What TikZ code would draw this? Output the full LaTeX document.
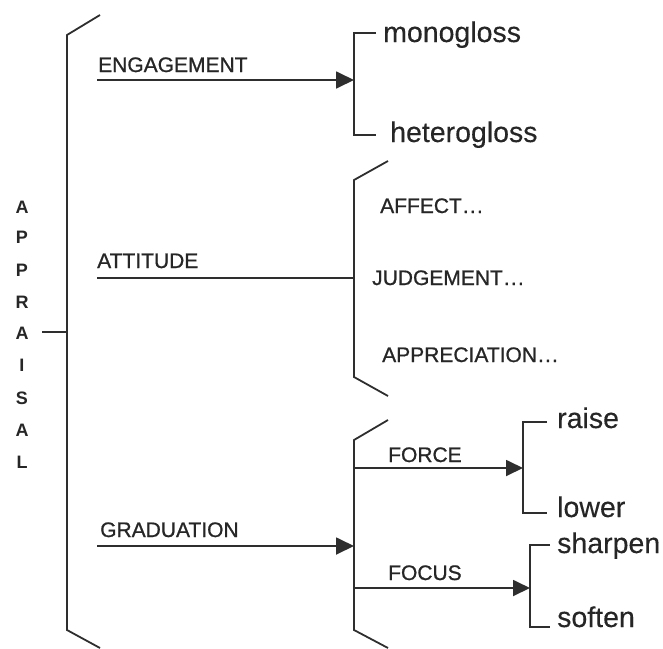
\documentclass[tikz,border=0pt]{standalone}
\usepackage{fontspec}
\setmainfont{Liberation Sans}
\newfontfamily\capsfont[FakeBold=0.9]{Liberation Sans}
\newfontfamily\lowfont[FakeBold=0.3]{Liberation Sans}
\usetikzlibrary{arrows.meta}
\newcommand{\mydots}{\kern1pt.\kern1.2pt.\kern1.2pt.}
\begin{document}
\begin{tikzpicture}[x=1pt,y=-1pt,
  ln/.style={line width=1.8pt, draw=black!82, line join=miter},
  arr/.style={ln, -{Triangle[length=18pt,width=17pt]}},
  sarr/.style={ln, -{Triangle[length=17pt,width=16pt]}},
  ucl/.style={anchor=base west, inner sep=0pt, font=\capsfont\fontsize{21}{24}\selectfont, text=black!85},
  lcl/.style={anchor=base west, inner sep=0pt, font=\lowfont\fontsize{28.5}{32}\selectfont, text=black!85},
  letter/.style={anchor=base, inner sep=0pt, font=\bfseries\fontsize{18}{20}\selectfont, text=black!85}]
\useasboundingbox (0,0) rectangle (663,648);

% APPRAISAL column
\foreach \l/\yy [count=\i] in {A/213, P/243.5, P/276.5, R/308.5, A/339.5, I/371.5, S/404, A/436.5, L/468.5}
  \node[letter] (ap\i) at (22,\yy) {\l};

% main bracket
\coordinate (mtop) at (67,35);
\coordinate (mbot) at (67,630);
\draw[ln] (100,15) -- (mtop) -- (mbot) -- (100,648);
\coordinate (apptick) at (42,332);
\coordinate (appjoin) at (67,332);
\draw[ln] (apptick) -- (appjoin);

% system entry points
\coordinate (engS) at (97,80);   \coordinate (engE) at (354,80);
\coordinate (attS) at (97,278);  \coordinate (attE) at (354,278);
\coordinate (graS) at (97,546);  \coordinate (graE) at (354,546);
\draw[arr] (engS) -- (engE);
\draw[ln]  (attS) -- (attE);
\draw[arr] (graS) -- (graE);

\node[ucl] (engL) at (98,72)  {ENGAGEMENT};
\node[ucl] (attL) at (97,268) {ATTITUDE};
\node[ucl] (graL) at (100,537) {GRADUATION};

% engagement bracket
\draw[ln] (376,33) -- (354,33) -- (354,135) -- (376,135);
\node[lcl] (mono)   at (383,42)  {monogloss};
\node[lcl] (hetero) at (390,142) {heterogloss};

% attitude bracket
\draw[ln] (388,161) -- (354,180) -- (354,377) -- (388,396);
\node[ucl] (aff) at (380,213) {AFFECT\mydots};
\node[ucl] (jud) at (372,285) {JUDGEMENT\mydots};
\node[ucl] (app) at (382,362) {APPRECIATION\mydots};

% graduation bracket
\draw[ln] (388,420) -- (354,440) -- (354,630) -- (388,648);
\coordinate (forS) at (354,468); \coordinate (forE) at (523,468);
\coordinate (focS) at (354,588); \coordinate (focE) at (530,588);
\draw[sarr] (forS) -- (forE);
\draw[sarr] (focS) -- (focE);
\node[ucl] (forL) at (388,462) {FORCE};
\node[ucl] (focL) at (388,580) {FOCUS};

% force bracket
\draw[ln] (547,422) -- (523,422) -- (523,513) -- (547,513);
\node[lcl] (raise) at (557,428) {raise};
\node[lcl] (lower) at (557,517) {lower};

% focus bracket
\draw[ln] (550,545) -- (530,545) -- (530,627) -- (550,627);
\node[lcl] (sharpen) at (557,553) {sharpen};
\node[lcl] (soften)  at (557,627) {soften};
\end{tikzpicture}
\end{document}
